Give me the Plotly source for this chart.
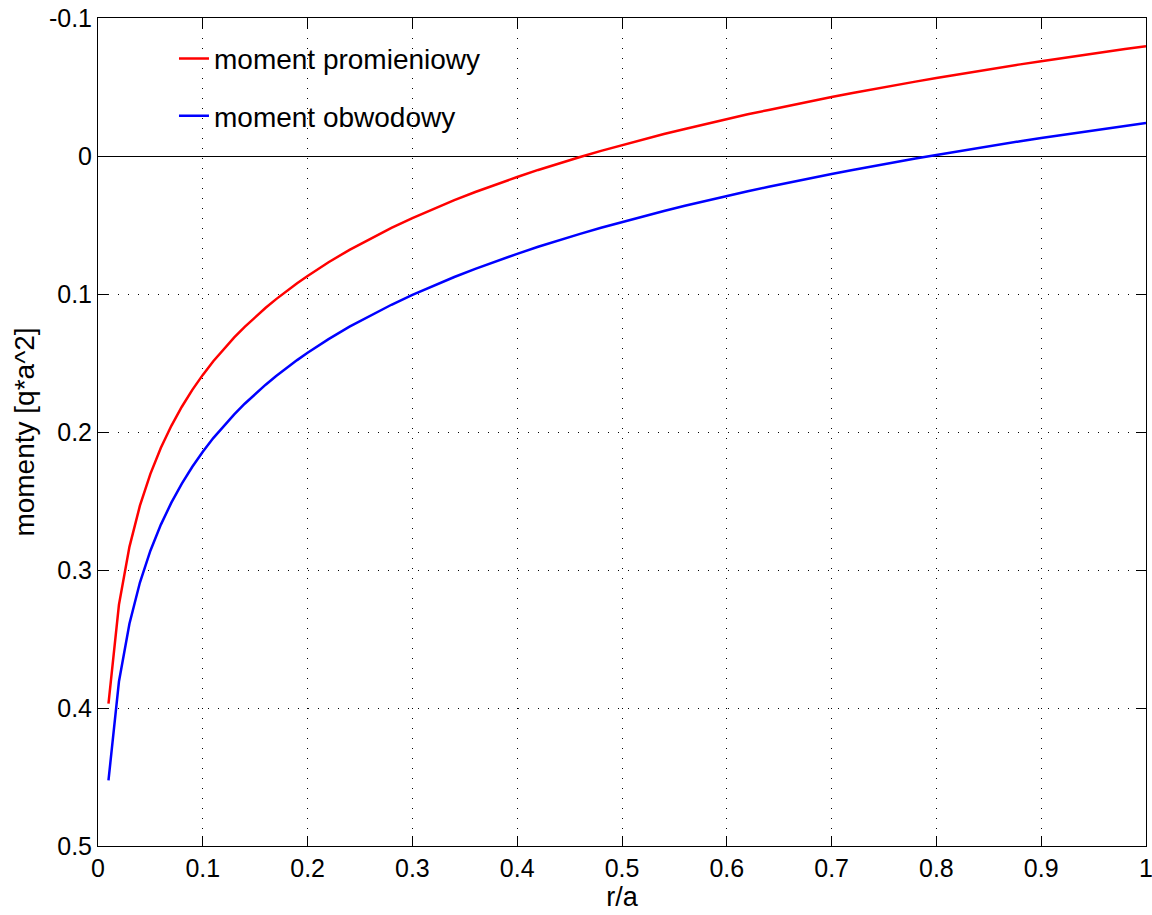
import plotly.graph_objects as go

r_a = [0.01, 0.02, 0.03, 0.04, 0.05, 0.06, 0.07, 0.08, 0.09, 0.10,
       0.11, 0.12, 0.13, 0.14, 0.15, 0.16, 0.17, 0.18, 0.19, 0.20,
       0.22, 0.24, 0.26, 0.28, 0.30, 0.32, 0.34, 0.36, 0.38, 0.40,
       0.42, 0.44, 0.46, 0.48, 0.50, 0.52, 0.54, 0.56, 0.58, 0.60,
       0.62, 0.64, 0.66, 0.68, 0.70, 0.72, 0.74, 0.76, 0.78, 0.80,
       0.82, 0.84, 0.86, 0.88, 0.90, 0.92, 0.94, 0.96, 0.98, 1.00]

moment_promieniowy = [0.3968, 0.3251, 0.2832, 0.2534, 0.2303, 0.2114, 0.1955, 0.1817, 0.1695, 0.1586,
                      0.1487, 0.1397, 0.1315, 0.1238, 0.1167, 0.1100, 0.1037, 0.0978, 0.0922, 0.0869,
                      0.0770, 0.0680, 0.0598, 0.0521, 0.0450, 0.0383, 0.0320, 0.0261, 0.0205, 0.0152,
                      0.0101, 0.0053, 0.0007, -0.0037, -0.0079, -0.0120, -0.0159, -0.0196, -0.0233, -0.0268,
                      -0.0302, -0.0334, -0.0366, -0.0397, -0.0427, -0.0456, -0.0485, -0.0512, -0.0539, -0.0565,
                      -0.0591, -0.0616, -0.0640, -0.0664, -0.0687, -0.0710, -0.0732, -0.0754, -0.0775, -0.0796]

moment_obwodowy = [0.4525, 0.3808, 0.3389, 0.3091, 0.2860, 0.2671, 0.2512, 0.2374, 0.2252, 0.2143,
                   0.2044, 0.1954, 0.1872, 0.1795, 0.1724, 0.1657, 0.1594, 0.1535, 0.1479, 0.1426,
                   0.1327, 0.1237, 0.1155, 0.1078, 0.1007, 0.0940, 0.0877, 0.0818, 0.0762, 0.0709,
                   0.0658, 0.0610, 0.0564, 0.0520, 0.0478, 0.0437, 0.0398, 0.0361, 0.0324, 0.0289,
                   0.0255, 0.0223, 0.0191, 0.0160, 0.0130, 0.0101, 0.0072, 0.0045, 0.0018, -0.0008,
                   -0.0034, -0.0059, -0.0083, -0.0107, -0.0130, -0.0153, -0.0175, -0.0197, -0.0218, -0.0239]

x_ticks = [0, 0.1, 0.2, 0.3, 0.4, 0.5, 0.6, 0.7, 0.8, 0.9, 1]
x_tick_labels = ["0", "0.1", "0.2", "0.3", "0.4", "0.5", "0.6", "0.7", "0.8", "0.9", "1"]
y_ticks = [-0.1, 0, 0.1, 0.2, 0.3, 0.4, 0.5]
y_tick_labels = ["-0.1", "0", "0.1", "0.2", "0.3", "0.4", "0.5"]

font_family = "Liberation Sans, Arial, sans-serif"

fig = go.Figure()
fig.add_trace(go.Scatter(x=r_a, y=moment_promieniowy, mode="lines", name="moment promieniowy",
                         line=dict(color="#ff0000", width=2.5), legendgroup="a"))
fig.add_trace(go.Scatter(x=r_a, y=moment_obwodowy, mode="lines", name="moment obwodowy",
                         line=dict(color="#0000ff", width=2.5), legendgroup="b"))

grid_dash = "1px,9px"
fig.update_layout(
    width=1152, height=915,
    margin=dict(l=98, r=6, t=18, b=69),
    paper_bgcolor="white", plot_bgcolor="white",
    font=dict(family=font_family, size=25, color="black"),
    showlegend=True,
    legend=dict(x=0.0725, y=0.981, xanchor="left", yanchor="top",
                bgcolor="rgba(255,255,255,0)", borderwidth=0,
                font=dict(size=28), tracegroupgap=18, traceorder="grouped"),
    xaxis=dict(range=[0, 1], tickvals=x_ticks, ticktext=x_tick_labels,
               automargin=False, ticklabeloverflow="allow",
               showline=True, linecolor="black", linewidth=1, mirror="ticks",
               ticks="inside", ticklen=10, tickcolor="black", tickwidth=1,
               showgrid=True, gridcolor="black", gridwidth=1, griddash=grid_dash,
               zeroline=False,
               title=dict(text="r/a", font=dict(size=27), standoff=6),
               tickfont=dict(size=25)),
    yaxis=dict(range=[0.5, -0.1], tickvals=y_ticks, ticktext=y_tick_labels,
               automargin=False, ticklabeloverflow="allow",
               showline=True, linecolor="black", linewidth=1, mirror="ticks",
               ticks="inside", ticklen=10, tickcolor="black", tickwidth=1,
               showgrid=True, gridcolor="black", gridwidth=1, griddash=grid_dash,
               zeroline=True, zerolinecolor="black", zerolinewidth=1,
               title=dict(text="momenty [q*a^2]", font=dict(size=28), standoff=6),
               tickfont=dict(size=25)),
)

fig.write_html("out.html")
